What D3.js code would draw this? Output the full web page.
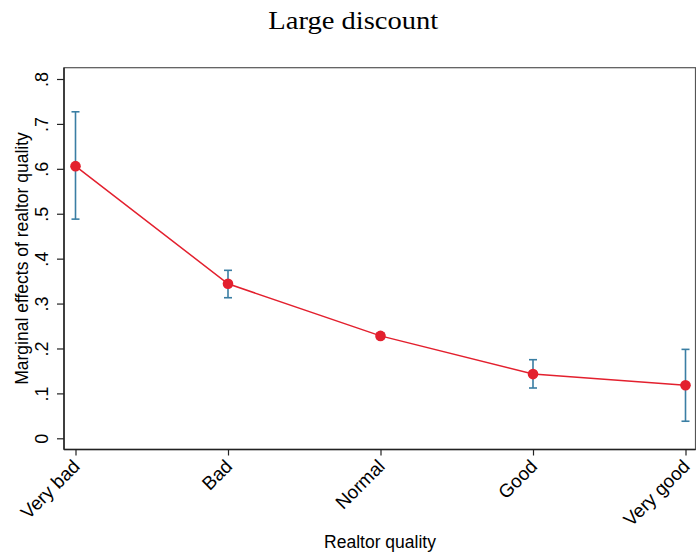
<!DOCTYPE html>
<html><head><meta charset="utf-8">
<script src="https://cdn.jsdelivr.net/npm/d3@7"></script>
<style>body{margin:0;background:#fff}svg{display:block}</style>
</head><body>
<svg id="c" width="696" height="557"></svg>
<script>
const categories = ["Very bad","Bad","Normal","Good","Very good"];
const estimates = [0.606, 0.344, 0.228, 0.143, 0.118];
const ciLower = [0.488, 0.313, 0.222, 0.112, 0.038];
const ciUpper = [0.727, 0.374, 0.234, 0.175, 0.198];
const yTicks = [0, 0.1, 0.2, 0.3, 0.4, 0.5, 0.6, 0.7, 0.8];
const yTickLabels = ["0", ".1", ".2", ".3", ".4", ".5", ".6", ".7", ".8"];
const titleText = "Large discount";
const xTitle = "Realtor quality";
const yTitle = "Marginal effects of realtor quality";

const svg = d3.select("#c");
const box = {left: 64, right: 695.5, top: 67.7, bottom: 449.5};
const x = d3.scalePoint().domain(categories).range([75.5, 685.5]);
const y = d3.scaleLinear().domain([0, 0.8]).range([438.3, 79]);
const red = "#e3202e", blue = "#3a7ea3", axisCol = "#222";

// frame
svg.append("rect").attr("x", box.left).attr("y", box.top)
  .attr("width", box.right - box.left).attr("height", box.bottom - box.top)
  .attr("fill", "none").attr("stroke", "#555").attr("stroke-width", 1.2);

// y axis
const yAxis = d3.axisLeft(y).tickValues(yTicks).tickSize(7).tickPadding(16)
  .tickFormat((d, i) => yTickLabels[i]);
const gy = svg.append("g").attr("transform", `translate(${box.left},0)`).call(yAxis);
gy.select(".domain").attr("d", `M0,${box.top}V${box.bottom}`).attr("stroke", axisCol).attr("stroke-width", 1.5);
gy.selectAll(".tick line").attr("stroke", axisCol).attr("stroke-width", 1.2);
gy.selectAll(".tick text")
  .attr("x", null).attr("dy", null)
  .attr("transform", "translate(-16,0) rotate(-90)")
  .attr("text-anchor", "middle")
  .attr("font-family", "Liberation Sans, Arial, sans-serif").attr("font-size", 18).attr("fill", "#000");

// x axis
const xAxis = d3.axisBottom(x).tickSize(6).tickPadding(0);
const gx = svg.append("g").attr("transform", `translate(0,${box.bottom})`).call(xAxis);
gx.select(".domain").attr("d", `M${box.left},0H${box.right}`).attr("stroke", axisCol).attr("stroke-width", 1.5);
gx.selectAll(".tick line").attr("stroke", axisCol).attr("stroke-width", 1.2);
gx.selectAll(".tick text")
  .attr("y", null).attr("dy", null)
  .attr("transform", "translate(5,18) rotate(-45)")
  .attr("text-anchor", "end")
  .attr("font-family", "Liberation Sans, Arial, sans-serif").attr("font-size", 18.8).attr("fill", "#000");

// error bars
const eb = svg.append("g").selectAll("g").data(categories).join("g");
eb.append("line").attr("x1", d => x(d)).attr("x2", d => x(d))
  .attr("y1", (d, i) => y(ciLower[i])).attr("y2", (d, i) => y(ciUpper[i]))
  .attr("stroke", blue).attr("stroke-width", 1.6);
eb.append("line").attr("x1", d => x(d) - 4).attr("x2", d => x(d) + 4)
  .attr("y1", (d, i) => y(ciLower[i])).attr("y2", (d, i) => y(ciLower[i]))
  .attr("stroke", blue).attr("stroke-width", 1.6);
eb.append("line").attr("x1", d => x(d) - 4).attr("x2", d => x(d) + 4)
  .attr("y1", (d, i) => y(ciUpper[i])).attr("y2", (d, i) => y(ciUpper[i]))
  .attr("stroke", blue).attr("stroke-width", 1.6);

// line
const line = d3.line().x(d => x(d.c)).y(d => y(d.v));
const pts = categories.map((c, i) => ({c, v: estimates[i]}));
svg.append("path").datum(pts).attr("d", line).attr("fill", "none")
  .attr("stroke", red).attr("stroke-width", 1.5);
svg.append("g").selectAll("circle").data(pts).join("circle")
  .attr("cx", d => x(d.c)).attr("cy", d => y(d.v)).attr("r", 5.3).attr("fill", red);

// titles
svg.append("text").attr("x", 353.3).attr("y", 29).attr("text-anchor", "middle")
  .attr("font-family", "Liberation Serif, Times New Roman, serif").attr("font-size", 26)
  .attr("textLength", 170).attr("lengthAdjust", "spacingAndGlyphs").text(titleText);
svg.append("text").attr("x", 380).attr("y", 548).attr("text-anchor", "middle")
  .attr("font-family", "Liberation Sans, Arial, sans-serif").attr("font-size", 17.5).text(xTitle);
svg.append("text").attr("transform", "translate(28,258.5) rotate(-90)").attr("text-anchor", "middle")
  .attr("font-family", "Liberation Sans, Arial, sans-serif").attr("font-size", 17.5).text(yTitle);
</script>
</body></html>
